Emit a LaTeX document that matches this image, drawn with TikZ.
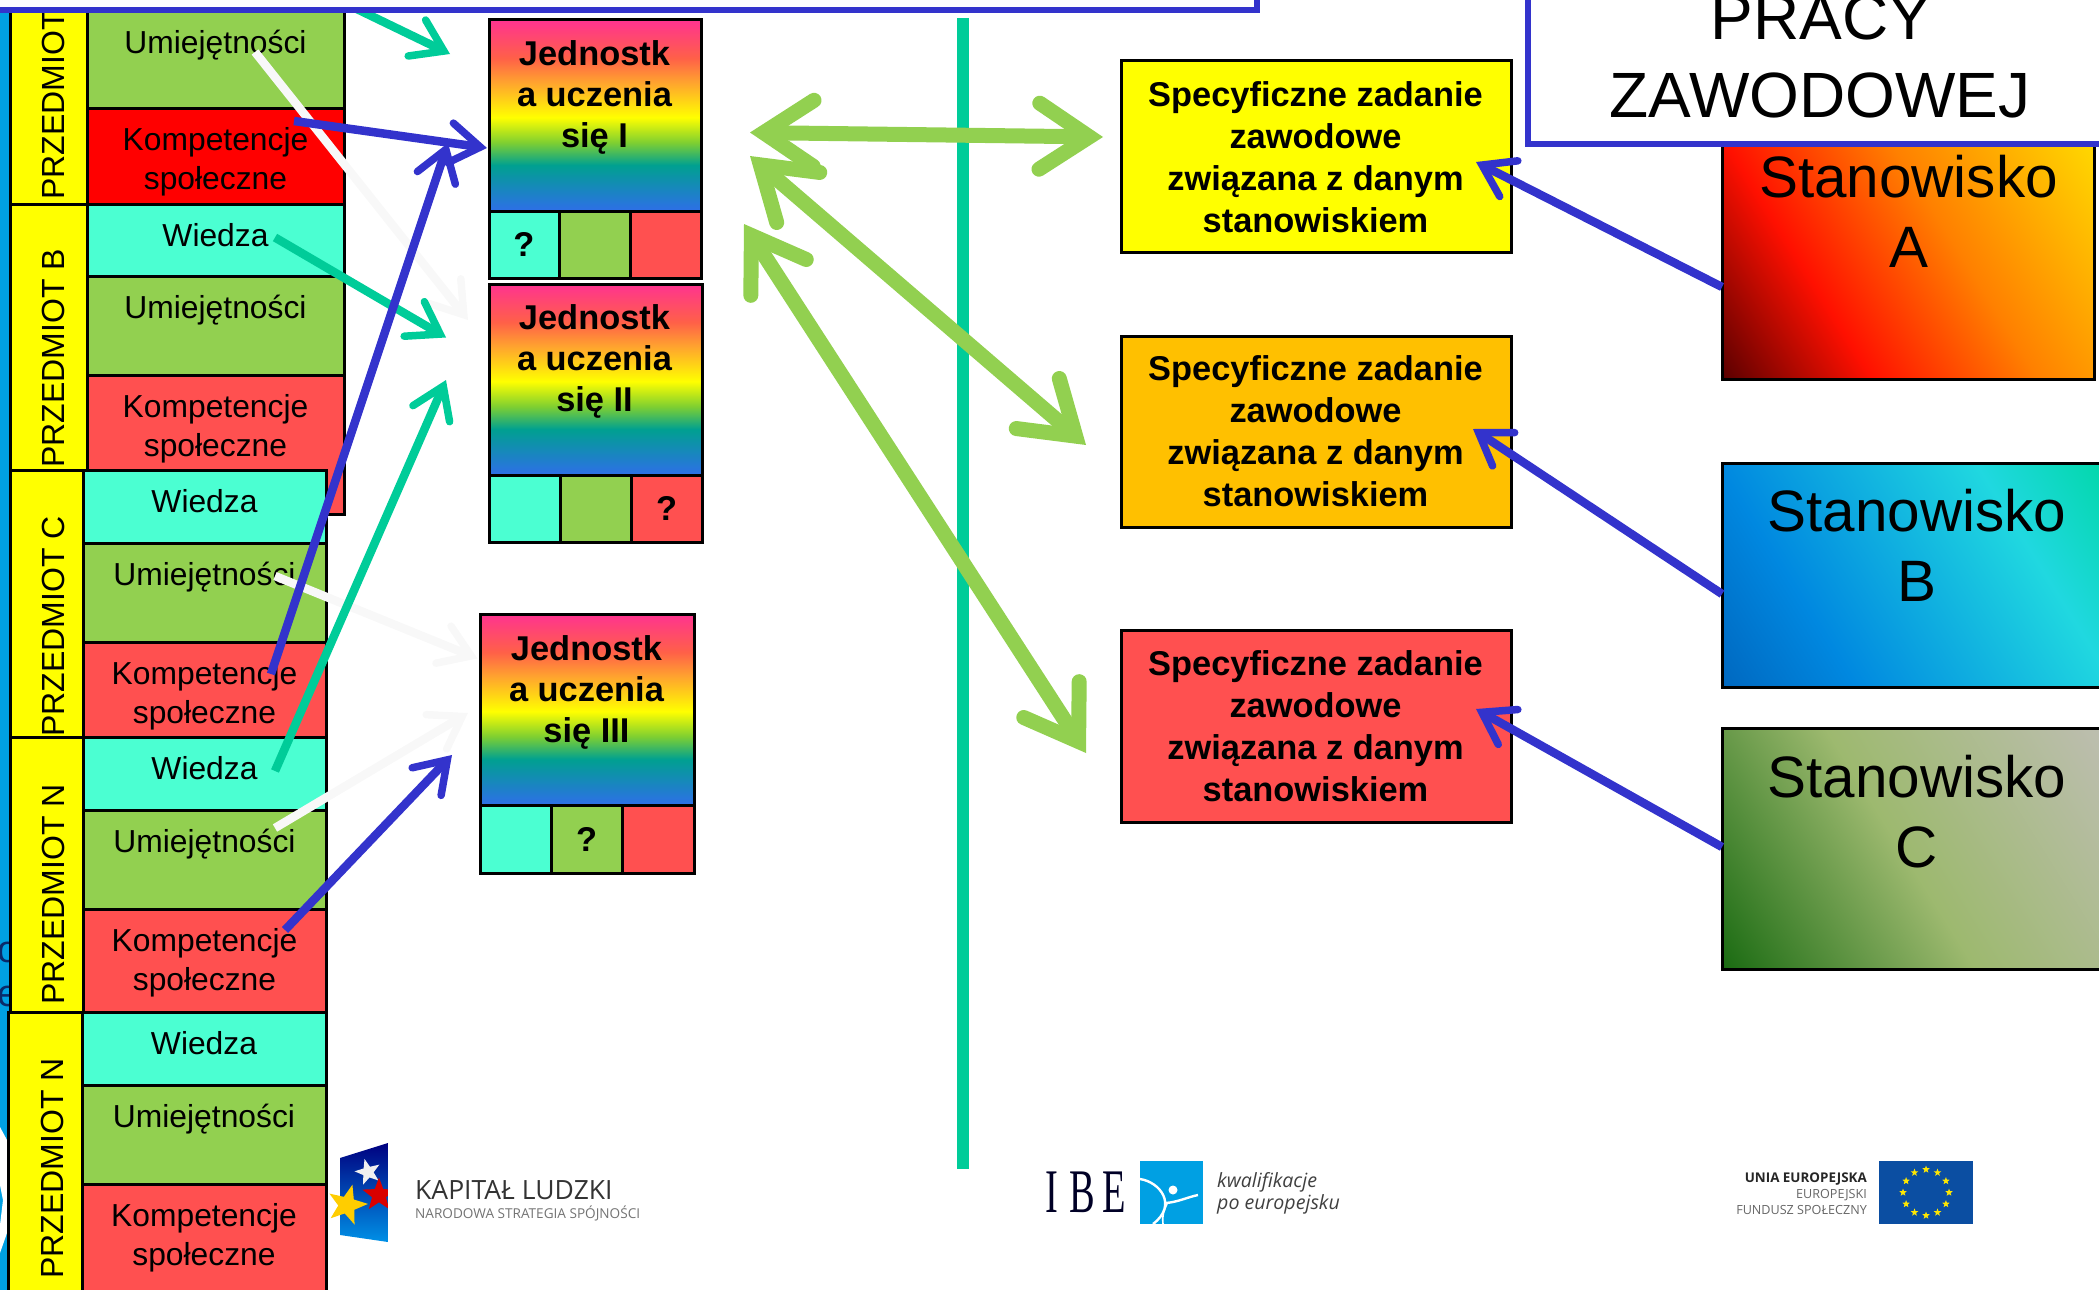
\documentclass[tikz,border=0pt]{standalone}
\usepackage{fontspec}
\usepackage{graphicx}
\setmainfont{Liberation Sans}
\newfontfamily\logofont{Open Sans}
\newfontfamily\serlogo{Liberation Serif}
\usetikzlibrary{arrows.meta,shapes.geometric,calc}
\definecolor{cWie}{HTML}{4BFFD2}
\definecolor{cUmi}{HTML}{92D050}
\definecolor{cKom}{HTML}{FF5050}
\definecolor{cRed}{HTML}{FF0000}
\definecolor{cYel}{HTML}{FFFF00}
\definecolor{cOra}{HTML}{FFC000}
\definecolor{cBlu}{HTML}{3333CC}
\definecolor{cTea}{HTML}{00CC99}
\definecolor{cSky}{HTML}{00A0E3}
\definecolor{cNear}{HTML}{F8F8F8}
\definecolor{cNavy}{HTML}{0A2A6A}
\definecolor{cFlag}{HTML}{0B4EA2}
\definecolor{gPink}{HTML}{FF3390}
\definecolor{gRedo}{HTML}{FF6048}
\definecolor{gOran}{HTML}{FFA030}
\definecolor{gGree}{HTML}{80D030}
\definecolor{gTeal}{HTML}{00A090}
\definecolor{gBlue}{HTML}{2E6FE8}
\definecolor{aA}{HTML}{5A0000}\definecolor{aB}{HTML}{FF1000}\definecolor{aC}{HTML}{FF8000}\definecolor{aD}{HTML}{FFD800}
\definecolor{bA}{HTML}{0068C0}\definecolor{bB}{HTML}{0088E0}\definecolor{bC}{HTML}{20D8E0}\definecolor{bD}{HTML}{00D8A8}
\definecolor{cA}{HTML}{1A6B12}\definecolor{cB}{HTML}{9DB96F}\definecolor{cD}{HTML}{BEBEB2}
\pgfdeclareverticalshading{unitgrad}{100bp}{color(0bp)=(gBlue);color(25bp)=(gBlue);color(37bp)=(gTeal);color(43bp)=(gGree);color(49.5bp)=(cYel);color(59bp)=(gOran);color(65bp)=(gRedo);color(75bp)=(gPink);color(100bp)=(gPink)}
\pgfdeclareverticalshading{stanA}{100bp}{color(0bp)=(aA);color(15.5bp)=(aA);color(35.5bp)=(aB);color(57.6bp)=(aC);color(84.5bp)=(aD);color(100bp)=(aD)}
\pgfdeclareverticalshading{stanB}{100bp}{color(0bp)=(bA);color(15.5bp)=(bA);color(33bp)=(bB);color(67bp)=(bC);color(84.5bp)=(bD);color(100bp)=(bD)}
\pgfdeclareverticalshading{stanC}{100bp}{color(0bp)=(cA);color(15.5bp)=(cA);color(48bp)=(cB);color(84.5bp)=(cD);color(100bp)=(cD)}
\newcommand\mkbox[7]{%
 \pgfmathsetmacro\cxv{(#2+#4)/2}\pgfmathsetmacro\cyv{(#3+#5)/2}\pgfmathsetmacro\wdv{#4-#2}\pgfmathsetmacro\htv{#5-#3}%
 \node[#6,minimum width=\wdv pt,minimum height=\htv pt,inner sep=0pt,outer sep=0pt] (#1) at (\cxv,\cyv) {#7};}
\tikzset{
 cellbox/.style={draw=black,line width=3pt},
 celltxt/.style={anchor=base,inner sep=0pt,yshift=-1.5pt,font=\fontsize{31.8}{39}\selectfont},
 subj/.style={rotate=90,anchor=base west,inner sep=0pt,font=\fontsize{32}{38}\selectfont},
 unitbox/.style={draw=black,line width=3pt,shading=unitgrad},
 unittxt/.style={anchor=base,inner sep=0pt,align=center,font=\fontsize{34.4}{41}\bfseries\selectfont},
 qm/.style={inner sep=0pt,font=\fontsize{34.4}{41}\bfseries\selectfont},
 spec/.style={draw=black,line width=3pt},
 spectxt/.style={anchor=base,inner sep=0pt,align=center,font=\fontsize{34.4}{42}\bfseries\selectfont},
 stan/.style={draw=black,line width=3pt,shading angle=-58},
 stantxt/.style={anchor=base,inner sep=0pt,align=center,font=\fontsize{58.4}{70}\selectfont},
 panel/.style={draw=cBlu,fill=white,line width=5.5pt,line join=miter},
 big/.style={line width=15pt,draw=cUmi,{Straight Barb[length=50pt,width=66pt,line width=15pt,line cap=round,line join=miter]}-{Straight Barb[length=50pt,width=66pt,line width=15pt,line cap=round,line join=miter]}},
 thin/.style={line width=8.5pt,-{Straight Barb[length=30pt,width=40pt,line width=7.5pt,line cap=round,line join=miter]}},
 estar/.style={star,star points=5,star point ratio=2.4,fill=#1,inner sep=0pt,draw=none},
 lett/.style={inner sep=0pt,text=cNavy,font=\fontsize{38}{40}\selectfont,anchor=base},
}
\begin{document}
\begin{tikzpicture}[x=1pt,y=-1pt]
\useasboundingbox (0,0) rectangle (2099,1290);
\clip (0,0) rectangle (2099,1290);
% left background strip
\fill[cSky] (0,0) rectangle (12,1290);
\fill[white] (0,1127) -- (7,1140) -- (7,1233) -- (0,1253) -- (0,1225) -- (3,1200) -- (0,1185) -- cycle;
\node[lett] (let1) at (8,962) {o};
\node[lett] (let2) at (8,1006) {e};
% subject A/B cells
\mkbox{kb}{87}{375}{344}{514}{cellbox,fill=cKom}{}
\mkbox{ya}{10}{5}{87}{204}{cellbox,fill=cYel}{}
\mkbox{yb}{10}{204}{87}{470}{cellbox,fill=cYel}{}
\mkbox{ua}{87}{5}{344}{108}{cellbox,fill=cUmi}{}
\mkbox{ka}{87}{108}{344}{204}{cellbox,fill=cRed}{}
\mkbox{wb}{87}{204}{344}{276}{cellbox,fill=cWie}{}
\mkbox{ub}{87}{276}{344}{375}{cellbox,fill=cUmi}{}
% C, N
\mkbox{yc}{10}{470}{83}{737}{cellbox,fill=cYel}{}
\mkbox{wc}{83}{470}{326}{543}{cellbox,fill=cWie}{}
\mkbox{uc}{83}{543}{326}{642}{cellbox,fill=cUmi}{}
\mkbox{kc}{83}{642}{326}{737}{cellbox,fill=cKom}{}
\mkbox{yn}{10}{737}{83}{1012}{cellbox,fill=cYel}{}
\mkbox{wn}{83}{737}{326}{810}{cellbox,fill=cWie}{}
\mkbox{un}{83}{810}{326}{909}{cellbox,fill=cUmi}{}
\mkbox{kn}{83}{909}{326}{1012}{cellbox,fill=cKom}{}
\mkbox{ym}{8}{1012}{82}{1300}{cellbox,fill=cYel}{}
\mkbox{wm}{82}{1012}{326}{1085}{cellbox,fill=cWie}{}
\mkbox{um}{82}{1085}{326}{1184}{cellbox,fill=cUmi}{}
\mkbox{km}{82}{1184}{326}{1300}{cellbox,fill=cKom}{}
% subject labels
\node[subj] (sa) at (64.5,200) {PRZEDMIOT};
\node[subj] (sb) at (64.5,468) {PRZEDMIOT B};
\node[subj] (sc) at (64.5,737) {PRZEDMIOT C};
\node[subj] (sn) at (64.5,1005) {PRZEDMIOT N};
\node[subj] (sm) at (63,1279) {PRZEDMIOT N};
% cell labels
\node[celltxt] (tua) at (215.5,52) {Umiejętności};
\node[celltxt] (tka1) at (215.5,149) {Kompetencje};
\node[celltxt] (tka2) at (215.5,187.5) {społeczne};
\node[celltxt] (twb) at (215.5,245) {Wiedza};
\node[celltxt] (tub) at (215.5,317) {Umiejętności};
\node[celltxt] (tkb1) at (215.5,416) {Kompetencje};
\node[celltxt] (tkb2) at (215.5,455) {społeczne};
\node[celltxt] (twc) at (204.5,511) {Wiedza};
\node[celltxt] (tuc) at (204.5,584) {Umiejętności};
\node[celltxt] (tkc1) at (204.5,683) {Kompetencje};
\node[celltxt] (tkc2) at (204.5,721.5) {społeczne};
\node[celltxt] (twn) at (204.5,778) {Wiedza};
\node[celltxt] (tun) at (204.5,851) {Umiejętności};
\node[celltxt] (tkn1) at (204.5,950) {Kompetencje};
\node[celltxt] (tkn2) at (204.5,988.5) {społeczne};
\node[celltxt] (twm) at (204,1053) {Wiedza};
\node[celltxt] (tum) at (204,1126) {Umiejętności};
\node[celltxt] (tkm1) at (204,1225) {Kompetencje};
\node[celltxt] (tkm2) at (204,1263.5) {społeczne};
% learning units
\mkbox{j1}{489}{20}{701}{211}{unitbox}{}
\mkbox{j1a}{489}{211}{559}{278}{cellbox,fill=cWie}{}
\mkbox{j1b}{559}{211}{630}{278}{cellbox,fill=cUmi}{}
\mkbox{j1c}{630}{211}{701}{278}{cellbox,fill=cKom}{}
\node[unittxt] (tj1) at (594.5,147.3) {Jednostk\\a uczenia\\się I};
\node[qm] (q1) at (j1a) {?};
\mkbox{j2}{489}{284}{702}{475}{unitbox}{}
\mkbox{j2a}{489}{475}{560}{542}{cellbox,fill=cWie}{}
\mkbox{j2b}{560}{475}{631}{542}{cellbox,fill=cUmi}{}
\mkbox{j2c}{631}{475}{702}{542}{cellbox,fill=cKom}{}
\node[unittxt] (tj2) at (594.5,411.3) {Jednostk\\a uczenia\\się II};
\node[qm] (q2) at (j2c) {?};
\mkbox{j3}{480}{614}{694}{805}{unitbox}{}
\mkbox{j3a}{480}{805}{551}{873}{cellbox,fill=cWie}{}
\mkbox{j3b}{551}{805}{622}{873}{cellbox,fill=cUmi}{}
\mkbox{j3c}{622}{805}{694}{873}{cellbox,fill=cKom}{}
\node[unittxt] (tj3) at (586.5,742.3) {Jednostk\\a uczenia\\się III};
\node[qm] (q3) at (j3b) {?};
% divider
\coordinate (dt) at (963,18);
\coordinate (db) at (963,1169);
\draw[cTea,line width=11.5pt] (dt) -- (db);
% specific tasks
\mkbox{s1}{1121}{61}{1511}{252}{spec,fill=cYel}{}
\mkbox{s2}{1121}{336}{1511}{527}{spec,fill=cOra}{}
\mkbox{s3}{1121}{630}{1511}{822}{spec,fill=cKom}{}
\node[spectxt] (ts1) at (1315.5,232) {Specyficzne zadanie\\zawodowe\\związana z danym\\stanowiskiem};
\node[spectxt] (ts2) at (1315.5,506) {Specyficzne zadanie\\zawodowe\\związana z danym\\stanowiskiem};
\node[spectxt] (ts3) at (1315.5,801) {Specyficzne zadanie\\zawodowe\\związana z danym\\stanowiskiem};
% positions
\mkbox{pa}{1722}{144}{2094}{379}{stan,shading=stanA}{}
\mkbox{pb}{1722}{463}{2110}{687}{stan,shading=stanB}{}
\mkbox{pc}{1722}{728}{2110}{969}{stan,shading=stanC}{}
\node[stantxt] (tpa) at (1908.5,267) {Stanowisko\\A};
\node[stantxt] (tpb) at (1917,601) {Stanowisko\\B};
\node[stantxt] (tpc) at (1917,867) {Stanowisko\\C};
% green double arrows
\coordinate (g1a) at (750,132.5); \coordinate (g1b) at (1103,137);
\coordinate (g2a) at (750,156);   \coordinate (g2b) at (1086,445);
\coordinate (g3a) at (744,224);   \coordinate (g3b) at (1086,753);
\draw[big] (g1a) -- (g1b);
\draw[big] (g2a) -- (g2b);
\draw[big] (g3a) -- (g3b);
% arrow free ends
\coordinate (wa1) at (255,52);   \coordinate (wa2) at (468,320);
\coordinate (wc1) at (275,576);  \coordinate (wc2) at (477.5,658.5);
\coordinate (wn1) at (275,828);  \coordinate (wn2) at (468,713);
\coordinate (ta1) at (330,-4);   \coordinate (ta2) at (450,54);
\coordinate (tb1) at (275,237.5);\coordinate (tb2) at (446,337.5);
\coordinate (tn1) at (275,771);  \coordinate (tn2) at (446,380);
\coordinate (ba1) at (294,121);  \coordinate (ba2) at (487,148);
\coordinate (bc1) at (271,674);  \coordinate (bc2) at (448,143);
\coordinate (bn1) at (285,930);  \coordinate (bn2) at (452,755);
\coordinate (r1) at (1476,162);  \coordinate (r2) at (1473,429); \coordinate (r3) at (1476,709);
\coordinate (pae) at (1722,287); \coordinate (pbe) at (1722,594); \coordinate (pce) at (1722,847);
\draw[thin,cNear] (wa1) -- (wa2);
\draw[thin,cNear] (wc1) -- (wc2);
\draw[thin,cNear] (wn1) -- (wn2);
\draw[thin,cTea] (ta1) -- (ta2);
\draw[thin,cTea] (tb1) -- (tb2);
\draw[thin,cTea] (tn1) -- (tn2);
\draw[thin,cBlu] (ba1) -- (ba2);
\draw[thin,cBlu] (bc1) -- (bc2);
\draw[thin,cBlu] (bn1) -- (bn2);
\draw[thin,cBlu] (pae) -- (r1);
\draw[thin,cBlu] (pbe) -- (r2);
\draw[thin,cBlu] (pce) -- (r3);
% panels
\mkbox{pl}{-10}{-20}{1257}{10}{panel}{}
\mkbox{pr}{1528}{-20}{2110}{144}{panel}{}
\node[anchor=base,inner sep=0pt,font=\fontsize{64}{77}\selectfont] (tpr) at (1821,40) {PRACY};
\node[anchor=base,inner sep=0pt,font=\fontsize{64}{77}\selectfont] (tzaw) at (1820,117) {ZAWODOWEJ};
% logo Kapitał Ludzki
\shade[top color=blue!50!black,bottom color=cSky!90!blue] (340,1158) -- (388,1143) -- (388,1242) -- (340,1235) -- cycle;
\node[estar=white!88!gray,minimum size=27pt,rotate=15] (kl1) at (368,1172) {};
\node[estar=cOra!80!yellow,minimum size=42pt,rotate=-15] (kl2) at (347,1205) {};
\node[estar=red!85!black,minimum size=35pt] (kl3) at (379,1195) {};
\fill[white] (388,1143) rectangle (400,1250);
\node[anchor=base west,inner sep=0pt,text=black!80,font=\logofont\fontsize{26.5}{28}\selectfont] (kl4) at (415,1199) {KAPITAŁ LUDZKI};
\node[anchor=base west,inner sep=0pt,text=black!55,font=\logofont\fontsize{13.6}{16}\selectfont] (kl5) at (415,1218) {NARODOWA STRATEGIA SPÓJNOŚCI};
% logo IBE
\node[anchor=base west,inner sep=0pt,text=black!85!blue,font=\serlogo\fontsize{62}{70}\selectfont] (ib1) at (1045,1212) {\scalebox{.62}[1]{I\kern18pt B\kern13pt E}};
\node[fill=cSky,minimum width=63pt,minimum height=63pt,inner sep=0pt,outer sep=0pt] (ib2) at (1171.5,1192.5) {};
\draw[white,line width=2.4pt] (1140,1179) .. controls (1160,1182) and (1178,1205) .. (1153,1224);
\draw[white,line width=1.6pt] (1163,1224) .. controls (1162,1215) and (1164,1210) .. (1167,1204);
\draw[white,line width=2.4pt] (1166,1203) .. controls (1178,1202) and (1188,1197) .. (1198,1195);
\fill[white] (1173,1190) circle (4.5);
\node[anchor=base west,inner sep=0pt,text=black!75,font=\logofont\itshape\fontsize{19.6}{22}\selectfont] (ib3) at (1217,1187) {kwalifikacje};
\node[anchor=base west,inner sep=0pt,text=black!75,font=\logofont\itshape\fontsize{19.6}{22}\selectfont] (ib4) at (1217,1209) {po europejsku};
% logo UE
\node[anchor=base east,inner sep=0pt,text=black!85,font=\logofont\bfseries\fontsize{13.4}{15}\selectfont] (ue1) at (1867,1182) {UNIA EUROPEJSKA};
\node[anchor=base east,inner sep=0pt,text=black!60,font=\logofont\fontsize{12.6}{15}\selectfont] (ue2) at (1867,1198) {EUROPEJSKI};
\node[anchor=base east,inner sep=0pt,text=black!60,font=\logofont\fontsize{12.6}{15}\selectfont] (ue3) at (1867,1214) {FUNDUSZ SPOŁECZNY};
\node[fill=cFlag,minimum width=94pt,minimum height=63pt,inner sep=0pt,outer sep=0pt] (ue4) at (1926,1192.5) {};
\foreach \a in {0,30,...,330}{\node[estar=yellow!90!orange,minimum size=8pt] at ($(1926,1192.5)+(\a:23pt)$) {};}
\end{tikzpicture}
\end{document}
